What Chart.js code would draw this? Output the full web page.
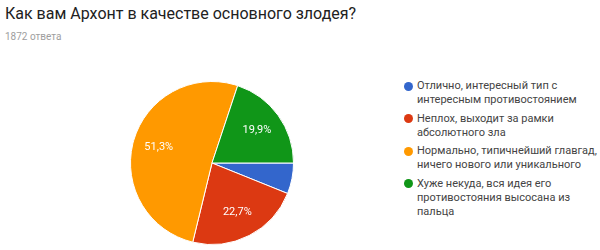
<!DOCTYPE html>
<html>
<head>
<meta charset="utf-8">
<script src="https://cdn.jsdelivr.net/npm/chart.js@4.4.0/dist/chart.umd.min.js"></script>
<style>
  html, body { margin: 0; padding: 0; background: #fff; }
  body { width: 600px; height: 250px; position: relative; overflow: hidden; font-family: Roboto, "Noto Sans", sans-serif; }
  #title { position: absolute; left: 5px; top: 4px; font-size: 16px; line-height: 19px; color: #212121; white-space: nowrap; }
  #subtitle { position: absolute; left: 5px; top: 31px; font-size: 10px; color: #9e9e9e; white-space: nowrap; }
  #wrap { position: absolute; left: 130px; top: 81px; width: 164px; height: 164px; }
  #legend { position: absolute; left: 404px; top: 79px; width: 196px; }
  .item { position: relative; padding-left: 13px; font-size: 11px; line-height: 14px; color: #444; margin-bottom: 4.5px; white-space: pre-line; }
  .dot { position: absolute; left: 0; top: 2.5px; width: 9px; height: 9px; border-radius: 50%; }
</style>
</head>
<body>
<div id="title"></div>
<div id="subtitle"></div>
<div id="wrap"><canvas id="c" width="164" height="164"></canvas></div>
<div id="legend"></div>
<script>
const titleText = "Как вам Архонт в качестве основного злодея?";
const subtitleText = "1872 ответа";
const categories = [
  "Отлично, интересный тип с\nинтересным противостоянием",
  "Неплох, выходит за рамки\nабсолютного зла",
  "Нормально, типичнейший главгад,\nничего нового или уникального",
  "Хуже некуда, вся идея его\nпротивостояния высосана из\nпальца"
];
const values = [6.1, 22.7, 51.3, 19.9];
const sliceLabels = ["6,1%", "22,7%", "51,3%", "19,9%"];
const colors = ["#3366cc", "#dc3912", "#ff9900", "#109618"];

document.getElementById('title').textContent = titleText;
document.getElementById('subtitle').textContent = subtitleText;
const leg = document.getElementById('legend');
categories.forEach((c, i) => {
  const d = document.createElement('div');
  d.className = 'item';
  const dot = document.createElement('span');
  dot.className = 'dot';
  dot.style.background = colors[i];
  d.appendChild(dot);
  d.appendChild(document.createTextNode(c));
  leg.appendChild(d);
});

const sliceLabelPlugin = {
  id: 'sliceLabels',
  afterDatasetsDraw(chart) {
    const ctx = chart.ctx;
    const meta = chart.getDatasetMeta(0);
    const total = values.reduce((a, b) => a + b, 0);
    ctx.save();
    ctx.fillStyle = '#ffffff';
    ctx.font = '11px Roboto, "Noto Sans", sans-serif';
    ctx.textAlign = 'center';
    ctx.textBaseline = 'middle';
    meta.data.forEach((arc, i) => {
      if (values[i] / total < 0.1) return;
      const p = arc.getProps(['x', 'y', 'startAngle', 'endAngle', 'outerRadius'], true);
      const mid = (p.startAngle + p.endAngle) / 2;
      const r = p.outerRadius * 0.68;
      ctx.fillText(sliceLabels[i], p.x + Math.cos(mid) * r, p.y + Math.sin(mid) * r);
    });
    ctx.restore();
  }
};

new Chart(document.getElementById('c'), {
  type: 'pie',
  data: {
    labels: categories,
    datasets: [{
      data: values,
      backgroundColor: colors,
      borderColor: '#ffffff',
      borderWidth: 1
    }]
  },
  options: {
    responsive: false,
    animation: false,
    rotation: 90,
    layout: { padding: 0 },
    plugins: { legend: { display: false }, tooltip: { enabled: false } }
  },
  plugins: [sliceLabelPlugin]
});
</script>
</body>
</html>
